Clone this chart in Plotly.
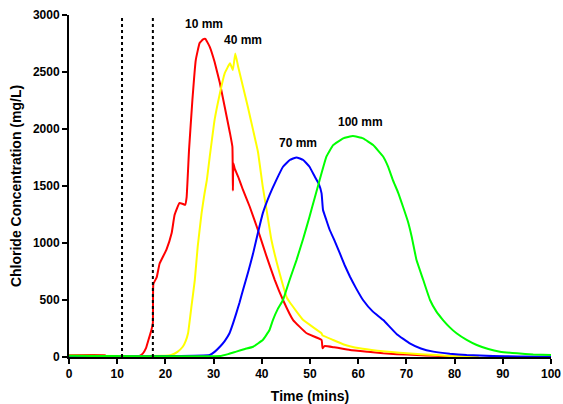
import plotly.graph_objects as go

# 10 mm (red)
red_x = [0, 7.5, 7.6, 14.0, 14.6, 15.3, 16.0, 16.3, 17.1, 17.4, 17.5, 18.2, 18.8, 20.2, 21.3, 21.9, 22.9, 23.5, 24.1, 24.4,
         24.9, 25.6, 26.3, 27.1, 27.8, 28.3, 29.2, 30.2, 31.3, 32.3, 33.4, 33.9, 34.0, 34.1, 34.4, 35.1, 36.1, 37.5,
         39.2, 41.0, 42.7, 44.4, 46.5, 49.3, 52.4, 52.6, 53.0, 55.0, 58.3, 62.0, 65.2, 68.0, 72.1, 76.0, 79.0, 83.0]
red_y = [15, 15, 8, 8, 10, 30, 80, 123, 237, 300, 640, 700, 820, 940, 1087, 1245, 1350, 1345, 1335, 1400,
         1815, 2254, 2605, 2754, 2786, 2790, 2721, 2590, 2403, 2195, 1963, 1844, 1460, 1700, 1650, 1581, 1465, 1318,
         1114, 880, 675, 500, 324, 208, 149, 76, 96, 85, 61, 45, 32, 25, 17, 10, 5, 0]

# 40 mm (yellow)
yel_x = [0, 20.0, 21.2, 22.5, 23.6, 24.2, 24.7, 25.4, 26.1, 26.7, 27.5, 28.1, 28.6, 29.2, 30.2, 31.3, 32.3, 33.4,
         34.0, 34.5, 35.1, 36.1, 37.1, 38.2, 39.2, 40.2, 41.0, 42.0, 43.7, 45.2, 45.8, 48.6, 52.4, 52.6, 54.8, 57.0,
         60.3, 64.0, 68.6, 73.0, 79.0, 85.0]
yel_y = [10, 10, 17, 45, 90, 140, 208, 441, 675, 967, 1260, 1430, 1552, 1757, 2078, 2312, 2488, 2576,
         2517, 2663, 2546, 2371, 2195, 1990, 1800, 1494, 1289, 1026, 734, 520, 480, 324, 208, 190, 149, 110,
         76, 55, 38, 25, 9, 3]

# 70 mm (blue)
blu_x = [0, 29.2, 30.2, 31.3, 32.3, 33.3, 34.0, 34.7, 35.4, 36.1, 37.2, 38.2, 39.2, 40.2, 41.6, 43.0, 44.4, 45.8,
         47.2, 48.6, 49.9, 51.0, 51.8, 52.4, 52.7, 53.4, 54.1, 55.2, 56.2, 57.2, 58.3, 59.6, 61.0, 63.0, 65.2, 68.0,
         70.7, 73.0, 75.6, 79.0, 82.5, 88.0, 93.0, 100.0]
blu_y = [5, 17, 45, 90, 140, 208, 290, 383, 480, 588, 750, 909, 1090, 1260, 1420, 1552, 1669, 1728,
         1751, 1728, 1669, 1581, 1520, 1435, 1289, 1200, 1114, 1010, 909, 805, 704, 600, 500, 400, 324, 200,
         120, 75, 47, 28, 17, 8, 5, 3]

# 100 mm (green)
grn_x = [0, 31.3, 33.0, 34.7, 36.5, 38.2, 40.2, 41.6, 42.3, 43.3, 44.4, 45.8, 47.2, 48.6, 49.9, 51.0, 52.0, 53.4,
         54.8, 56.9, 58.9, 61.0, 63.1, 65.2, 66.2, 67.2, 68.3, 69.3, 70.3, 71.1, 72.1, 73.5, 74.9, 76.2, 77.6, 79.0,
         80.4, 82.5, 84.6, 87.0, 89.4, 93.0, 96.3, 100.0]
grn_y = [10, 8, 25, 47, 70, 90, 149, 237, 324, 420, 500, 680, 850, 1040, 1230, 1400, 1552, 1757,
         1859, 1918, 1938, 1918, 1859, 1757, 1670, 1552, 1440, 1318, 1190, 1055, 850, 675, 500, 400, 324, 260,
         208, 150, 105, 70, 47, 32, 23, 17]

dotted_x = [11.0, 17.4]

labels = ["10 mm", "40 mm", "70 mm", "100 mm"]
label_x = [28.1, 36.0, 47.6, 60.5]
label_y = [2920, 2780, 1877, 2061]

x_ticks = list(range(0, 101, 10))
y_ticks = list(range(0, 3001, 500))

FAM = "Arial, Liberation Sans, sans-serif"

fig = go.Figure()
for xd, yd, c, n in [(red_x, red_y, "#FF0000", "10 mm"), (yel_x, yel_y, "#FFFF00", "40 mm"),
                     (blu_x, blu_y, "#0000FF", "70 mm"), (grn_x, grn_y, "#00FF00", "100 mm")]:
    fig.add_trace(go.Scatter(x=xd, y=yd, mode="lines", name=n, line=dict(color=c, width=2, shape="spline", smoothing=0.3)))

for dx in dotted_x:
    fig.add_trace(go.Scatter(x=[dx, dx], y=[0, 3000], mode="lines", showlegend=False,
                             line=dict(color="black", width=2, dash="dot")))

for t, ax, ay in zip(labels, label_x, label_y):
    fig.add_annotation(x=ax, y=ay, text=t, showarrow=False,
                       font=dict(family=FAM, size=12, color="black", weight="bold"))

font = dict(family=FAM, size=12, color="black", weight="bold")
tfont = dict(family=FAM, size=14, color="black", weight="bold")
fig.update_layout(
    width=563, height=404,
    margin=dict(l=69, r=12, t=15, b=47),
    paper_bgcolor="white", plot_bgcolor="white",
    showlegend=False,
    xaxis=dict(range=[0, 100], tickvals=x_ticks, showgrid=False, zeroline=False, automargin=False,
               showline=True, linecolor="black", linewidth=2, ticks="outside", ticklen=5,
               tickcolor="black", tickwidth=2, tickfont=font,
               title=dict(text="Time (mins)", font=tfont, standoff=11)),
    yaxis=dict(range=[0, 3000], tickvals=y_ticks, showgrid=False, zeroline=False, automargin=False,
               showline=True, linecolor="black", linewidth=2, ticks="outside", ticklen=5,
               tickcolor="black", tickwidth=2, tickfont=font,
               title=dict(text="Chloride Concentration (mg/L)", font=tfont, standoff=8)),
)

fig.write_html("out.html", config={"displayModeBar": False},
               post_script="document.body.style.margin='0';document.documentElement.style.overflow='hidden';")
